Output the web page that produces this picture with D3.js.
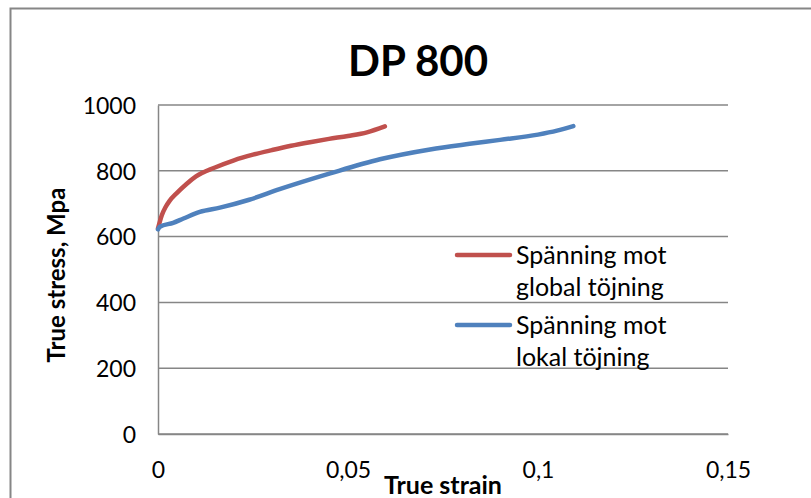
<!DOCTYPE html>
<html>
<head>
<meta charset="utf-8">
<script src="https://cdn.jsdelivr.net/npm/d3@7"></script>
<style>
  html, body { margin: 0; padding: 0; background: #fff; }
  svg { display: block; }
  text { font-family: Lato, "Open Sans", sans-serif; fill: #000; }
</style>
</head>
<body>
<svg id="chart" width="811" height="498"></svg>
<script>
// Global strain series (strain, stress in MPa)
const globalStrain = [0, 0.001, 0.002, 0.003, 0.005, 0.0075, 0.01, 0.015, 0.02, 0.025, 0.03, 0.035, 0.04, 0.045, 0.05, 0.055, 0.0597];
const globalStress = [625, 665, 690, 708, 733, 760, 783, 810, 832, 849, 863, 876, 887, 897, 906, 917, 935];

// Local strain series
const localStrain = [0, 0.0005, 0.004, 0.0067, 0.011, 0.0163, 0.024, 0.032, 0.0453, 0.0584, 0.0716, 0.082, 0.09, 0.1, 0.105, 0.1093];
const localStress = [622, 630, 642, 655, 675, 688, 712, 744, 792, 835, 865, 882, 894, 910, 922, 936];

const seriesNames = [["Spänning mot", "global töjning"], ["Spänning mot", "lokal töjning"]];
const seriesColors = ["#C0504D", "#4F81BD"];

const xTicks = [0, 0.05, 0.1, 0.15];
const xTickLabels = ["0", "0,05", "0,1", "0,15"];
const yTicks = [0, 200, 400, 600, 800, 1000];

const chartTitle = "DP 800";
const xTitle = "True strain";
const yTitle = "True stress, Mpa";

const svg = d3.select("#chart");

// chart area frame
svg.append("rect")
  .attr("x", 10.5).attr("y", 8.5)
  .attr("width", 830).attr("height", 520)
  .attr("fill", "#fff")
  .attr("stroke", "#868686").attr("stroke-width", 2);

const plot = { left: 158, right: 728, top: 105, bottom: 434 };

const x = d3.scaleLinear().domain([0, 0.15]).range([plot.left, plot.right]);
const y = d3.scaleLinear().domain([0, 1000]).range([plot.bottom, plot.top]);

// horizontal gridlines
svg.append("g")
  .selectAll("line")
  .data(yTicks)
  .join("line")
  .attr("x1", plot.left).attr("x2", plot.right)
  .attr("y1", d => y(d)).attr("y2", d => y(d))
  .attr("stroke", "#868686").attr("stroke-width", 1.5);

// y axis
const yAxis = svg.append("g")
  .attr("transform", `translate(${plot.left},0)`)
  .call(d3.axisLeft(y).tickValues(yTicks).tickSize(0).tickPadding(22).tickFormat(d3.format("d")));
yAxis.select(".domain").attr("stroke", "#868686").attr("stroke-width", 1.5);
yAxis.selectAll("text")
  .style("font-family", "Lato, sans-serif")
  .style("font-size", "23px")
  .attr("dy", "0.36em");

// x axis
const xAxis = svg.append("g")
  .attr("transform", `translate(0,${plot.bottom})`)
  .call(d3.axisBottom(x).tickValues(xTicks).tickSize(0).tickPadding(28)
    .tickFormat((d, i) => xTickLabels[i]));
xAxis.select(".domain").attr("stroke", "#868686").attr("stroke-width", 1.5);
xAxis.selectAll("text")
  .style("font-family", "Lato, sans-serif")
  .style("font-size", "23px");

// data lines
const line = d3.line()
  .x(d => x(d[0]))
  .y(d => y(d[1]))
  .curve(d3.curveMonotoneX);

const series = [
  d3.zip(globalStrain, globalStress),
  d3.zip(localStrain, localStress)
];

svg.append("g")
  .selectAll("path")
  .data(series)
  .join("path")
  .attr("d", line)
  .attr("fill", "none")
  .attr("stroke", (d, i) => seriesColors[i])
  .attr("stroke-width", 4.5)
  .attr("stroke-linecap", "round")
  .attr("stroke-linejoin", "round");

// title
svg.append("text")
  .attr("x", 418).attr("y", 76)
  .attr("text-anchor", "middle")
  .style("font-weight", "bold")
  .style("font-size", "42px")
  .text(chartTitle);

// axis titles
svg.append("text")
  .attr("x", 443).attr("y", 494)
  .attr("text-anchor", "middle")
  .style("font-weight", "bold")
  .style("font-size", "25px")
  .text(xTitle);

svg.append("text")
  .attr("transform", "translate(65,275) rotate(-90)")
  .attr("text-anchor", "middle")
  .style("font-weight", "bold")
  .style("font-size", "24px")
  .text(yTitle);

// legend
const legendY = [255, 325];
const legend = svg.append("g");
seriesNames.forEach((lines, i) => {
  legend.append("line")
    .attr("x1", 457).attr("x2", 510)
    .attr("y1", legendY[i]).attr("y2", legendY[i])
    .attr("stroke", seriesColors[i])
    .attr("stroke-width", 4.5)
    .attr("stroke-linecap", "round");
  lines.forEach((t, j) => {
    legend.append("text")
      .attr("x", 516)
      .attr("y", legendY[i] + 9 + j * 32)
      .style("font-size", "25px")
      .text(t);
  });
});
</script>
</body>
</html>
